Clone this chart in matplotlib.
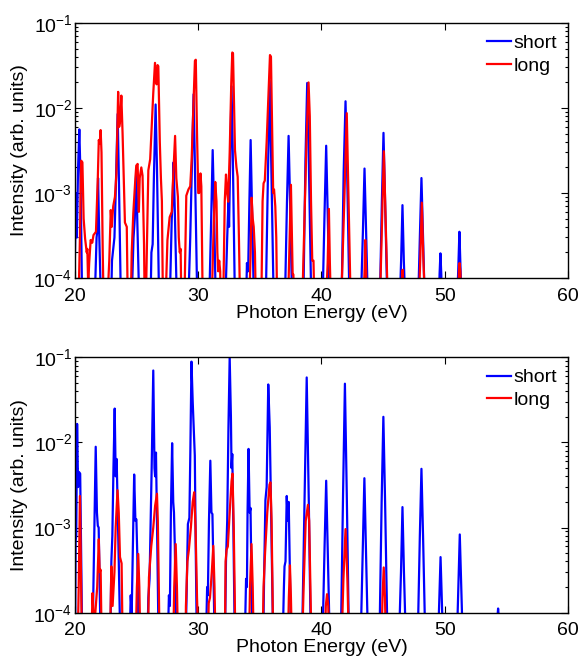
import matplotlib
import numpy as np

matplotlib.use('Agg')
from matplotlib import pyplot as plt

plt.rcParams['font.family'] = ['Liberation Sans', 'DejaVu Sans']
plt.rcParams['font.size'] = 14

# (photon energy [eV], intensity) vertices; 3e-5 = below the plotted floor
top_short = np.array([
    (19.9, 3e-5), (20.02, 3e-4), (20.08, 1e-3), (20.15, 3e-4), (20.25, 2e-3), (20.35, 5.6e-3), (20.45, 1.5e-3), (20.6, 3e-5),
    (21.55, 3e-5), (21.75, 3e-4), (21.8, 3.5e-4), (21.87, 1.5e-3), (21.95, 4e-4), (22.15, 3e-5),
    (22.9, 3e-5), (23.0, 1.6e-4), (23.2, 3e-4), (23.3, 1e-3), (23.46, 8.5e-3), (23.56, 1.5e-3), (23.75, 3e-5),
    (24.55, 3e-5), (24.75, 3e-4), (24.85, 5e-4), (24.97, 1.85e-3), (25.05, 5e-4), (25.25, 3e-5),
    (26.1, 3e-5), (26.2, 2e-4), (26.3, 2.5e-4), (26.4, 1.5e-3), (26.54, 1.1e-2), (26.65, 2e-3), (26.85, 3e-5),
    (27.65, 3e-5), (27.85, 5e-4), (27.92, 8e-4), (28.0, 2.3e-3), (28.1, 6e-4), (28.3, 3e-5),
    (29.15, 3e-5), (29.35, 3e-4), (29.5, 2.6e-3), (29.62, 1.45e-2), (29.72, 2.5e-3), (29.95, 3e-5),
    (30.85, 3e-5), (31.05, 5e-4), (31.17, 3.2e-3), (31.27, 8e-4), (31.45, 3e-5),
    (32.15, 3e-5), (32.35, 3e-4), (32.45, 8e-4), (32.5, 4e-4), (32.58, 2e-3), (32.7, 1.8e-2), (32.8, 3e-3), (33.0, 3e-5),
    (33.85, 3e-5), (33.95, 1.5e-4), (34.05, 1.2e-4), (34.15, 8e-4), (34.25, 4.2e-3), (34.35, 8e-4), (34.55, 3e-5),
    (35.45, 3e-5), (35.65, 1.5e-3), (35.8, 2.1e-2), (35.93, 2e-3), (36.15, 3e-5),
    (37.0, 3e-5), (37.2, 8e-4), (37.33, 4.7e-3), (37.45, 8e-4), (37.65, 3e-5),
    (38.5, 3e-5), (38.7, 2.5e-3), (38.84, 1.97e-2), (38.97, 2.5e-3), (39.2, 3e-5),
    (40.05, 3e-5), (40.25, 6e-4), (40.38, 3.6e-3), (40.5, 6e-4), (40.7, 3e-5),
    (41.6, 3e-5), (41.8, 1.8e-3), (41.95, 1.2e-2), (42.08, 1.8e-3), (42.3, 3e-5),
    (43.15, 3e-5), (43.36, 3.5e-4), (43.49, 1.94e-3), (43.62, 3.5e-4), (43.8, 3e-5),
    (44.7, 3e-5), (44.9, 8e-4), (45.03, 5.1e-3), (45.16, 8e-4), (45.38, 3e-5),
    (46.3, 3e-5), (46.46, 1.6e-4), (46.57, 7.2e-4), (46.68, 1.6e-4), (46.85, 3e-5),
    (47.8, 3e-5), (47.98, 3e-4), (48.11, 1.5e-3), (48.24, 3e-4), (48.42, 3e-5),
    (49.5, 3e-5), (49.58, 1.1e-4), (49.65, 1.95e-4), (49.72, 1.1e-4), (49.8, 3e-5),
    (50.95, 3e-5), (51.1, 1.3e-4), (51.19, 3.5e-4), (51.28, 1.3e-4), (51.43, 3e-5),
    (60.0, 3e-5),
])

top_long = np.array([
    (20.25, 3e-5), (20.4, 3e-4), (20.5, 2.4e-3), (20.6, 2.3e-3), (20.7, 5e-4), (20.82, 2.9e-4), (20.95, 2e-4),
    (21.0, 2.2e-4), (21.07, 8e-5), (21.15, 1.5e-4), (21.27, 2.8e-4), (21.4, 2.6e-4), (21.5, 3.2e-4), (21.7, 3.5e-4),
    (21.85, 1.5e-3), (21.93, 4.2e-3), (22.0, 3.8e-3), (22.08, 5.5e-3), (22.15, 3e-3), (22.25, 2e-4), (22.35, 3e-5),
    (22.55, 3e-5), (22.78, 1.6e-4), (22.9, 6.3e-4), (22.98, 4e-4), (23.1, 7e-4), (23.24, 9e-4), (23.36, 1.7e-3),
    (23.5, 1.55e-2), (23.58, 6e-3), (23.66, 7e-3), (23.76, 1.4e-2), (23.86, 5e-3), (23.97, 1.2e-3), (24.05, 4.5e-4),
    (24.2, 4e-4), (24.3, 3e-5),
    (24.5, 3e-5), (24.6, 2e-4), (24.73, 5.8e-4), (24.9, 1.5e-3), (24.97, 2.1e-3), (25.08, 2.2e-3), (25.18, 6e-4),
    (25.25, 1.5e-3), (25.38, 2e-3), (25.48, 1.6e-3), (25.6, 2.5e-4), (25.67, 3e-5),
    (25.72, 3e-5), (25.81, 1.6e-4), (25.95, 1.85e-3), (26.1, 2.5e-3), (26.22, 6e-3), (26.35, 1.5e-2), (26.49, 3.4e-2),
    (26.58, 2e-2), (26.62, 1.9e-2), (26.7, 3.2e-2), (26.76, 3.1e-2), (26.88, 4e-3), (26.97, 1.5e-3), (27.05, 8e-4),
    (27.15, 3e-5),
    (27.3, 3e-5), (27.5, 2.8e-4), (27.68, 5.2e-4), (27.85, 6e-4), (27.93, 1.2e-3), (28.12, 4.7e-3), (28.22, 1.5e-3),
    (28.35, 9e-4), (28.42, 3e-4), (28.5, 2e-4), (28.57, 2.2e-4), (28.65, 3e-5),
    (28.85, 3e-5), (29.03, 9.3e-4), (29.2, 1.1e-3), (29.35, 1.2e-3), (29.46, 2.4e-3), (29.6, 1e-2), (29.73, 3.6e-2),
    (29.8, 3.7e-2), (29.9, 5e-3), (30.0, 1e-3), (30.07, 1e-3), (30.18, 1.7e-3), (30.25, 1.2e-3), (30.38, 3e-5),
    (31.05, 3e-5), (31.25, 4e-4), (31.38, 1.35e-3), (31.48, 8e-4), (31.55, 2e-4), (31.62, 1.2e-4), (31.7, 1.6e-4),
    (31.78, 1.2e-4), (31.85, 3e-5),
    (32.0, 3e-5), (32.15, 8e-4), (32.25, 1.65e-3), (32.35, 1e-3), (32.43, 7.9e-4), (32.55, 3e-3), (32.68, 2e-2),
    (32.76, 4.5e-2), (32.82, 4.4e-2), (32.92, 8e-3), (32.98, 3.2e-3), (33.1, 2e-3), (33.2, 1.55e-3), (33.3, 3e-4),
    (33.42, 3e-5),
    (34.1, 3e-5), (34.25, 2e-4), (34.33, 8.8e-4), (34.42, 5e-4), (34.5, 4e-4), (34.6, 2e-4), (34.7, 3e-5),
    (35.1, 3e-5), (35.22, 8e-4), (35.3, 1.3e-3), (35.4, 1.4e-3), (35.55, 4e-3), (35.7, 1.5e-2), (35.82, 4.2e-2),
    (35.9, 4e-2), (36.0, 5e-3), (36.08, 1e-3), (36.15, 1.1e-3), (36.25, 7e-4), (36.33, 3e-4), (36.42, 3e-5),
    (37.25, 3e-5), (37.42, 3e-4), (37.52, 1.25e-3), (37.6, 3e-4), (37.66, 1.1e-4), (37.72, 1.1e-4), (37.8, 3e-5),
    (38.4, 3e-5), (38.62, 5e-4), (38.8, 5e-3), (38.95, 2e-2), (39.05, 8e-3), (39.15, 8e-4), (39.25, 1.6e-4),
    (39.35, 1.6e-4), (39.45, 3e-5),
    (40.3, 3e-5), (40.5, 1.5e-4), (40.6, 6.5e-4), (40.68, 1.5e-4), (40.8, 3e-5),
    (41.55, 3e-5), (41.85, 8e-4), (42.05, 8.7e-3), (42.2, 8e-4), (42.4, 3e-5),
    (43.35, 3e-5), (43.5, 1.3e-4), (43.55, 2.8e-4), (43.62, 1.3e-4), (43.7, 3e-5),
    (44.7, 3e-5), (44.92, 5e-4), (45.06, 3.1e-3), (45.2, 5e-4), (45.42, 3e-5),
    (46.45, 3e-5), (46.55, 1.2e-4), (46.6, 1.25e-4), (46.68, 3e-5),
    (47.85, 3e-5), (48.02, 1.8e-4), (48.14, 7.7e-4), (48.26, 1.8e-4), (48.45, 3e-5),
    (51.05, 3e-5), (51.15, 1.2e-4), (51.2, 1.5e-4), (51.27, 1.2e-4), (51.35, 3e-5),
    (60.0, 3e-5),
])

bottom_short = np.array([
    (20.0, 3e-5), (20.05, 7e-4), (20.1, 8e-4), (20.17, 1.65e-2), (20.25, 3e-3), (20.32, 4.5e-3), (20.42, 4.3e-3),
    (20.5, 5e-4), (20.6, 3e-5),
    (21.4, 3e-5), (21.55, 6e-4), (21.68, 8.9e-3), (21.78, 1.5e-3), (21.85, 1.05e-3), (21.92, 1e-3), (22.0, 2e-4),
    (22.1, 3e-5),
    (22.85, 3e-5), (22.95, 4e-4), (23.03, 8e-4), (23.12, 5e-3), (23.22, 2.5e-2), (23.3, 4e-3), (23.38, 6.4e-3),
    (23.46, 1.75e-3), (23.55, 4e-4), (23.7, 3e-5),
    (24.4, 3e-5), (24.52, 1.6e-4), (24.6, 1e-4), (24.7, 6e-4), (24.8, 4.2e-3), (24.9, 1.2e-3), (24.98, 1.25e-3),
    (25.05, 5e-4), (25.18, 3e-5),
    (25.85, 3e-5), (25.95, 1.5e-4), (26.05, 2.5e-4), (26.13, 1.05e-3), (26.22, 5e-3), (26.35, 7e-2), (26.45, 5e-3),
    (26.5, 4e-3), (26.57, 7.6e-3), (26.65, 1.2e-3), (26.8, 3e-5),
    (27.5, 3e-5), (27.62, 1.6e-4), (27.7, 1.2e-4), (27.78, 1.5e-3), (27.88, 9.8e-3), (27.97, 2e-3), (28.03, 1.5e-3),
    (28.1, 6e-4), (28.15, 1.5e-4), (28.28, 3e-5),
    (28.95, 3e-5), (29.05, 1.5e-4), (29.16, 1.1e-3), (29.28, 1.3e-3), (29.36, 8e-3), (29.45, 8.9e-2), (29.55, 3e-2),
    (29.62, 1.6e-2), (29.72, 7e-3), (29.8, 5e-4), (29.9, 3e-5),
    (30.6, 3e-5), (30.72, 2e-4), (30.78, 1.6e-4), (30.87, 1.2e-3), (30.98, 6.1e-3), (31.07, 1.5e-3), (31.15, 1.44e-3),
    (31.22, 4e-4), (31.35, 3e-5),
    (32.15, 3e-5), (32.25, 4e-4), (32.35, 1.2e-3), (32.45, 1.5e-2), (32.55, 1.0e-1), (32.65, 2e-2), (32.7, 5e-3),
    (32.76, 7.3e-3), (32.85, 1e-3), (32.98, 3e-5),
    (33.75, 3e-5), (33.88, 2.5e-4), (33.95, 2e-4), (34.0, 1.5e-3), (34.08, 8.4e-3), (34.17, 1.5e-3), (34.24, 1.7e-3),
    (34.3, 4e-4), (34.42, 3e-5),
    (35.25, 3e-5), (35.35, 3e-4), (35.45, 2.1e-3), (35.55, 3e-3), (35.68, 4.8e-2), (35.8, 1.5e-2), (35.9, 2e-3),
    (36.0, 3e-4), (36.1, 3e-5),
    (36.82, 3e-5), (36.95, 2e-4), (37.0, 3.5e-4), (37.08, 4e-4), (37.18, 2.35e-3), (37.26, 1.2e-3), (37.34, 2e-3),
    (37.42, 4e-4), (37.55, 3e-5),
    (38.4, 3e-5), (38.62, 2e-3), (38.8, 5.8e-2), (38.97, 2e-3), (39.15, 3e-5),
    (40.05, 3e-5), (40.25, 6e-4), (40.38, 3.55e-3), (40.5, 6e-4), (40.7, 3e-5),
    (41.55, 3e-5), (41.75, 2.5e-3), (41.9, 4.9e-2), (42.05, 2.5e-3), (42.25, 3e-5),
    (43.15, 3e-5), (43.35, 6e-4), (43.48, 3.8e-3), (43.6, 6e-4), (43.8, 3e-5),
    (44.68, 3e-5), (44.88, 2e-3), (45.02, 2e-2), (45.16, 2e-3), (45.38, 3e-5),
    (46.25, 3e-5), (46.45, 3e-4), (46.57, 1.74e-3), (46.69, 3e-4), (46.88, 3e-5),
    (47.78, 3e-5), (47.98, 8e-4), (48.11, 4.9e-3), (48.24, 8e-4), (48.45, 3e-5),
    (49.42, 3e-5), (49.56, 1.4e-4), (49.66, 4.5e-4), (49.76, 1.4e-4), (49.9, 3e-5),
    (50.95, 3e-5), (51.1, 2e-4), (51.22, 8.3e-4), (51.34, 2e-4), (51.5, 3e-5),
    (54.2, 3e-5), (54.28, 9e-5), (54.33, 1.12e-4), (54.38, 9e-5), (54.45, 3e-5),
    (60.0, 3e-5),
])

bottom_long = np.array([
    (20.2, 3e-5), (20.3, 2e-4), (20.4, 2.35e-3), (20.5, 2e-4), (20.58, 3e-5),
    (21.3, 3e-5), (21.42, 1.7e-4), (21.52, 8e-5), (21.65, 1e-4), (21.8, 2e-4), (21.93, 7.3e-4), (22.0, 3e-4),
    (22.08, 3.2e-4), (22.18, 3e-5),
    (22.82, 3e-5), (22.95, 3.5e-4), (23.05, 1.2e-4), (23.2, 3e-4), (23.3, 1e-3), (23.45, 2.75e-3), (23.55, 1.5e-3),
    (23.65, 4.5e-4), (23.78, 3.8e-4), (23.88, 3e-5),
    (24.9, 3e-5), (25.02, 2e-4), (25.13, 4.9e-4), (25.22, 2e-4), (25.32, 3e-5),
    (25.9, 3e-5), (26.0, 2.6e-4), (26.19, 6.1e-4), (26.35, 1e-3), (26.5, 1.8e-3), (26.65, 2.5e-3), (26.72, 1.2e-3),
    (26.8, 2e-4), (26.88, 3e-5),
    (27.95, 3e-5), (28.05, 2e-4), (28.17, 6.4e-4), (28.27, 2e-4), (28.38, 3e-5),
    (28.95, 3e-5), (29.0, 1.2e-4), (29.12, 4e-4), (29.24, 5.5e-4), (29.4, 1e-3), (29.55, 2e-3), (29.67, 2.6e-3),
    (29.78, 1e-3), (29.9, 1.5e-4), (30.05, 3e-5),
    (30.75, 3e-5), (30.85, 1.3e-4), (30.95, 1.5e-4), (31.1, 3e-4), (31.22, 6.1e-4), (31.32, 2e-4), (31.42, 3e-5),
    (32.15, 3e-5), (32.22, 4e-4), (32.3, 5.5e-4), (32.4, 6e-4), (32.55, 1.5e-3), (32.7, 3.5e-3), (32.78, 4.3e-3),
    (32.88, 1e-3), (32.98, 1e-4), (33.05, 3e-5),
    (34.1, 3e-5), (34.2, 2e-4), (34.32, 6.4e-4), (34.42, 2e-4), (34.52, 3e-5),
    (35.2, 3e-5), (35.3, 2e-4), (35.42, 5e-4), (35.6, 1.5e-3), (35.78, 3.2e-3), (35.86, 3.4e-3), (35.95, 1.2e-3),
    (36.05, 1e-4), (36.12, 3e-5),
    (37.25, 3e-5), (37.35, 1.5e-4), (37.44, 3.6e-4), (37.52, 1.5e-4), (37.62, 3e-5),
    (38.4, 3e-5), (38.55, 2e-4), (38.72, 1.2e-3), (38.9, 1.85e-3), (39.0, 1.2e-3), (39.1, 2e-4), (39.2, 3e-5),
    (40.25, 3e-5), (40.35, 1.2e-4), (40.45, 1.65e-4), (40.55, 1.2e-4), (40.65, 3e-5),
    (41.6, 3e-5), (41.78, 2.5e-4), (41.95, 9.6e-4), (42.1, 2.5e-4), (42.25, 3e-5),
    (44.85, 3e-5), (44.95, 1.5e-4), (45.05, 3.4e-4), (45.15, 1.5e-4), (45.25, 3e-5),
    (60.0, 3e-5),
])

panels = [(top_short, top_long), (bottom_short, bottom_long)]

fig = plt.figure(figsize=(5.81, 6.56), dpi=100)
rects = [[0.1291, 0.5762, 0.8485, 0.3887], [0.1291, 0.0660, 0.8485, 0.3893]]

for rect, (short, long_) in zip(rects, panels):
    ax = fig.add_axes(rect)
    ax.plot(short[:, 0], short[:, 1], color=(0, 0, 1), lw=1.6, label="short")
    ax.plot(long_[:, 0], long_[:, 1], color=(1, 0, 0), lw=1.6, label="long")
    ax.set_yscale("log")
    ax.set_xlim(20, 60)
    ax.set_ylim(1e-4, 1e-1)
    ax.set_xticks([20, 30, 40, 50, 60])
    ax.tick_params(which="both", direction="in", top=True, right=True, width=0.8)
    ax.tick_params(which="major", length=5)
    ax.tick_params(which="minor", length=2.5)
    ax.tick_params(axis="x", pad=7)
    ax.tick_params(axis="y", pad=2)
    for sp in ax.spines.values():
        sp.set_linewidth(1.0)
    ax.set_xlabel("Photon Energy (eV)", labelpad=0)
    ax.set_ylabel("Intensity (arb. units)", labelpad=4)
    ax.legend(loc="upper left", bbox_to_anchor=(0.835, 0.955), frameon=False,
              borderpad=0, labelspacing=0.25, handlelength=1.25, handletextpad=0.15,
              borderaxespad=0)

fig.savefig("out.png", dpi=100)
